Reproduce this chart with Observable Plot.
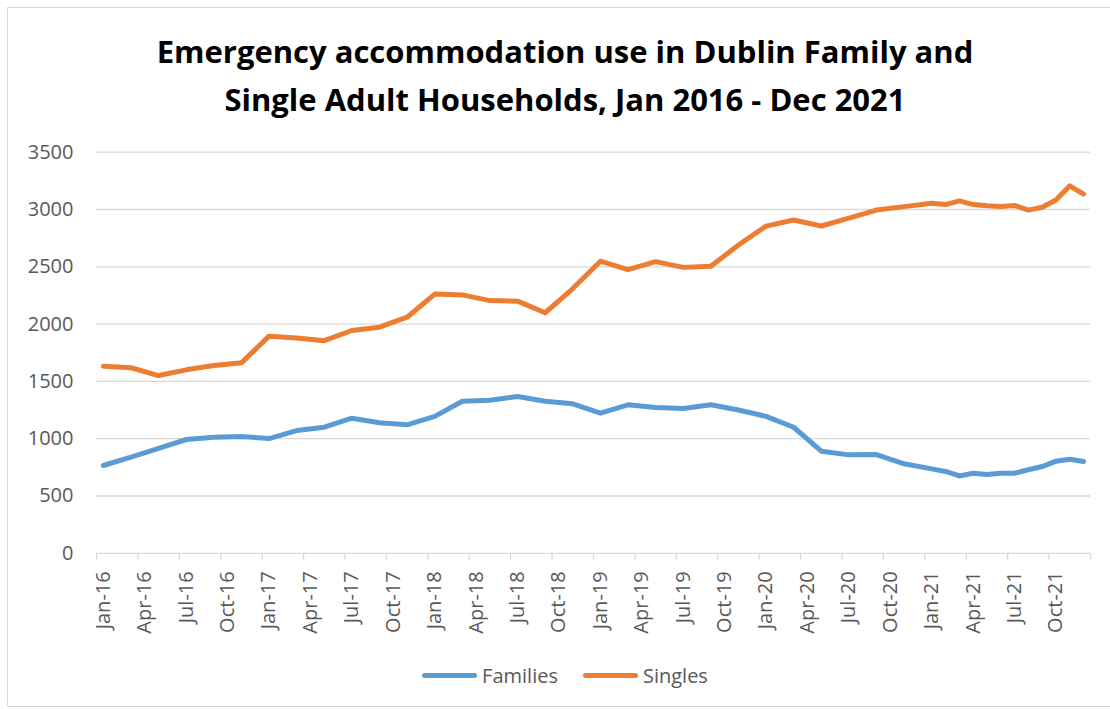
<!DOCTYPE html>
<html>
<head>
<meta charset="utf-8">
<script src="https://cdn.jsdelivr.net/npm/d3@7"></script>
<script src="https://cdn.jsdelivr.net/npm/@observablehq/plot@0.6"></script>
<style>
  html, body { margin: 0; padding: 0; background: #fff; }
  #frame { position: relative; width: 1110px; height: 709px; overflow: hidden; background: #fff; }
  #border { position: absolute; left: 7px; top: 7px; width: 1116px; height: 700px; border: 1.5px solid #d9d9d9; box-sizing: border-box; }
  .tline { position: absolute; left: 7px; width: 1116px; text-align: center; font-family: "Open Sans", sans-serif; font-weight: 700; font-size: 31px; line-height: 31px; color: #000; white-space: nowrap; }
  #chart { position: absolute; left: 0; top: 130px; }
  #legend { position: absolute; left: 7px; width: 1116px; top: 662px; height: 26px; display: flex; justify-content: center; align-items: center; font-family: "Open Sans", sans-serif; font-size: 20px; color: #595959; }
  .item { display: flex; align-items: center; }
  .sw { display: inline-block; width: 55px; height: 5px; border-radius: 3px; margin-right: 5px; }
</style>
</head>
<body>
<div id="frame">
  <div id="border"></div>
  <div class="tline" id="t1" style="top:36px"></div>
  <div class="tline" id="t2" style="top:84px"></div>
  <div id="chart"></div>
  <div id="legend"></div>
</div>
<script>
const titleLines = ["Emergency accommodation use in Dublin Family and", "Single Adult Households, Jan 2016 - Dec 2021"];

// observation months (bimonthly 2016-2020, monthly 2021)
const months = [
  "2016-01","2016-03","2016-05","2016-07","2016-09","2016-11",
  "2017-01","2017-03","2017-05","2017-07","2017-09","2017-11",
  "2018-01","2018-03","2018-05","2018-07","2018-09","2018-11",
  "2019-01","2019-03","2019-05","2019-07","2019-09","2019-11",
  "2020-01","2020-03","2020-05","2020-07","2020-09","2020-11",
  "2021-01","2021-02","2021-03","2021-04","2021-05","2021-06",
  "2021-07","2021-08","2021-09","2021-10","2021-11","2021-12"
];
const families = [
  766, 839, 915, 993, 1013, 1019,
  1001, 1071, 1100, 1179, 1139, 1121,
  1195, 1327, 1335, 1368, 1327, 1304,
  1223, 1296, 1272, 1263, 1296, 1250,
  1195, 1100, 891, 859, 862, 781,
  737, 714, 675, 699, 687, 699,
  699, 729, 757, 804, 821, 801
];
const singles = [
  1633, 1619, 1551, 1601, 1639, 1662,
  1895, 1878, 1855, 1944, 1973, 2060,
  2262, 2255, 2205, 2200, 2099, 2310,
  2549, 2476, 2545, 2495, 2505, 2690,
  2855, 2908, 2856, 2925, 2995, 3025,
  3055, 3043, 3076, 3043, 3032, 3027,
  3035, 2995, 3020, 3083, 3207, 3135
];
const seriesNames = ["Families", "Singles"];
const seriesColors = ["#5B9BD5", "#ED7D31"];
const tickLabels = [
  "Jan-16","Apr-16","Jul-16","Oct-16","Jan-17","Apr-17","Jul-17","Oct-17",
  "Jan-18","Apr-18","Jul-18","Oct-18","Jan-19","Apr-19","Jul-19","Oct-19",
  "Jan-20","Apr-20","Jul-20","Oct-20","Jan-21","Apr-21","Jul-21","Oct-21"
];
const yTicks = [0, 500, 1000, 1500, 2000, 2500, 3000, 3500];

// month index on an equal-width month axis starting Jan 2016; points at month centres
const monthIndex = m => { const [y, mo] = m.split("-").map(Number); return (y - 2016) * 12 + (mo - 1); };
const rows = [];
months.forEach((m, i) => {
  rows.push({t: monthIndex(m) + 0.5, v: families[i], s: seriesNames[0]});
  rows.push({t: monthIndex(m) + 0.5, v: singles[i], s: seriesNames[1]});
});
const quarterStarts = d3.range(0, tickLabels.length * 3 + 1, 3);
const labelRows = tickLabels.map((l, i) => ({t: i * 3 + 0.5, label: l}));

document.getElementById("t1").textContent = titleLines[0];
document.getElementById("t2").textContent = titleLines[1];

const chart = Plot.plot({
  width: 1110,
  height: 520,
  marginLeft: 96,
  marginRight: 20,
  marginTop: 21.7,
  marginBottom: 97.2,
  x: {domain: [0, 72], axis: null},
  y: {domain: [0, 3500], axis: null},
  color: {domain: seriesNames, range: seriesColors},
  style: {fontFamily: "'Open Sans', sans-serif", background: "transparent", overflow: "visible"},
  marks: [
    Plot.ruleY(yTicks, {stroke: "#d9d9d9", strokeWidth: 1.3}),
    Plot.axisX(quarterStarts, {tickSize: 7, tickFormat: () => "", label: null, stroke: "#d9d9d9", strokeWidth: 1.3, strokeOpacity: 1}),
    Plot.axisY(yTicks, {tickSize: 0, tickPadding: 23, label: null, tickFormat: d => String(d), fontSize: 20, fill: "#595959"}),
    Plot.text(labelRows, {x: "t", y: 0, text: "label", rotate: -90, textAnchor: "end", lineAnchor: "middle", dy: 18, fontSize: 20, fill: "#595959"}),
    Plot.line(rows, {x: "t", y: "v", z: "s", stroke: "s", strokeWidth: 5, strokeLinejoin: "round", strokeLinecap: "round"})
  ]
});
document.getElementById("chart").appendChild(chart);

const legend = document.getElementById("legend");
seriesNames.forEach((name, i) => {
  const item = document.createElement("div");
  item.className = "item";
  if (i > 0) item.style.marginLeft = "25px";
  const sw = document.createElement("span");
  sw.className = "sw";
  sw.style.background = seriesColors[i];
  const tx = document.createElement("span");
  tx.textContent = name;
  item.appendChild(sw);
  item.appendChild(tx);
  legend.appendChild(item);
});
</script>
</body>
</html>
